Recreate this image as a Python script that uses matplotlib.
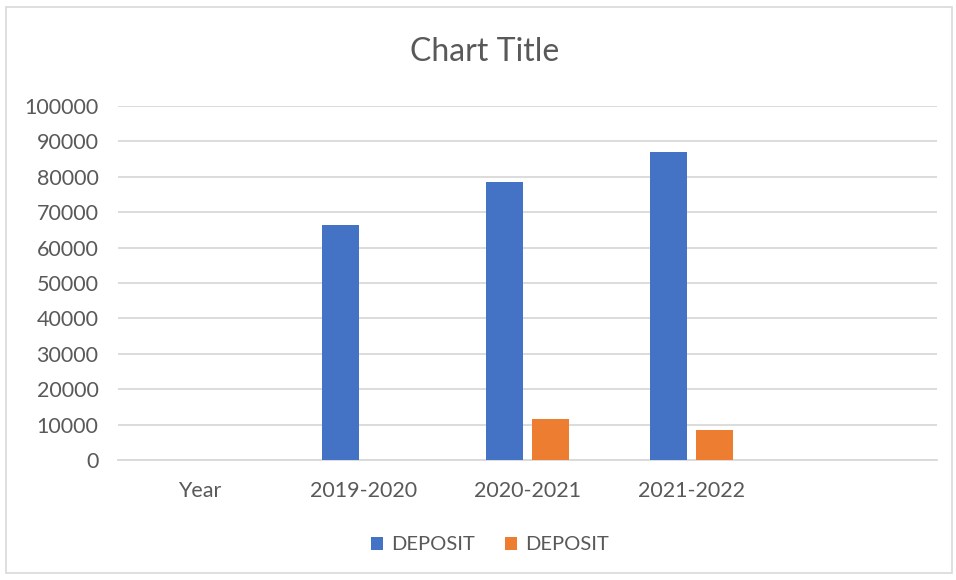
import matplotlib
matplotlib.use("Agg")
import matplotlib.pyplot as plt
import numpy as np
from matplotlib.patches import Rectangle

categories = ["Year", "2019-2020", "2020-2021", "2021-2022", ""]
deposit_a = [0, 66400, 78500, 87000, 0]
deposit_b = [0, 0, 11700, 8400, 0]
series_names = ["DEPOSIT", "DEPOSIT"]
y_ticks = list(range(0, 100001, 10000))

BLUE = "#4472C4"
ORANGE = "#ED7D31"
GRID = "#D9D9D9"
TEXT = "#595959"

plt.rcParams["font.family"] = ["Lato", "DejaVu Sans"]

fig = plt.figure(figsize=(9.56, 5.8), dpi=100)
ax = fig.add_axes([118 / 956, 120 / 580, (937 - 118) / 956, (460 - 106) / 580])

# chart frame
fig.patches.append(Rectangle((6 / 956, 7 / 580), 946 / 956, 566 / 580,
                             transform=fig.transFigure, fill=False,
                             edgecolor="#D9D9D9", linewidth=1.2))

x = np.arange(len(categories))
w = 0.225
b1 = ax.bar(x - 0.14, deposit_a, w, color=BLUE, label=series_names[0], zorder=3)
b2 = ax.bar(x + 0.14, deposit_b, w, color=ORANGE, label=series_names[1], zorder=3)

ax.set_xlim(-0.5, len(categories) - 0.5)
ax.set_ylim(0, 100000)
ax.set_yticks(y_ticks)
ax.set_yticklabels([str(v) for v in y_ticks])
ax.set_xticks(x)
ax.set_xticklabels(categories)
ax.yaxis.grid(True, color=GRID, linewidth=1.3, zorder=0)
ax.set_axisbelow(True)
for s in ["top", "right", "left"]:
    ax.spines[s].set_visible(False)
ax.spines["bottom"].set_color(GRID)
ax.spines["bottom"].set_linewidth(1.3)
ax.tick_params(axis="y", length=0, pad=14, labelsize=15.5, labelcolor=TEXT)
ax.tick_params(axis="x", length=0, pad=15, labelsize=15.5, labelcolor=TEXT)

fig.text(485 / 956, 1 - 52 / 580, "Chart Title", ha="center", va="center",
         fontsize=23, color=TEXT)

fig.legend(handles=[b1, b2], labels=series_names, loc="center",
           bbox_to_anchor=(490 / 956, 1 - 545 / 580), ncol=2, frameon=False,
           fontsize=14.5, labelcolor=TEXT, handlelength=0.6, handleheight=0.6,
           handletextpad=0.4, columnspacing=1.5)

fig.savefig("out.png", dpi=100, facecolor="white")
